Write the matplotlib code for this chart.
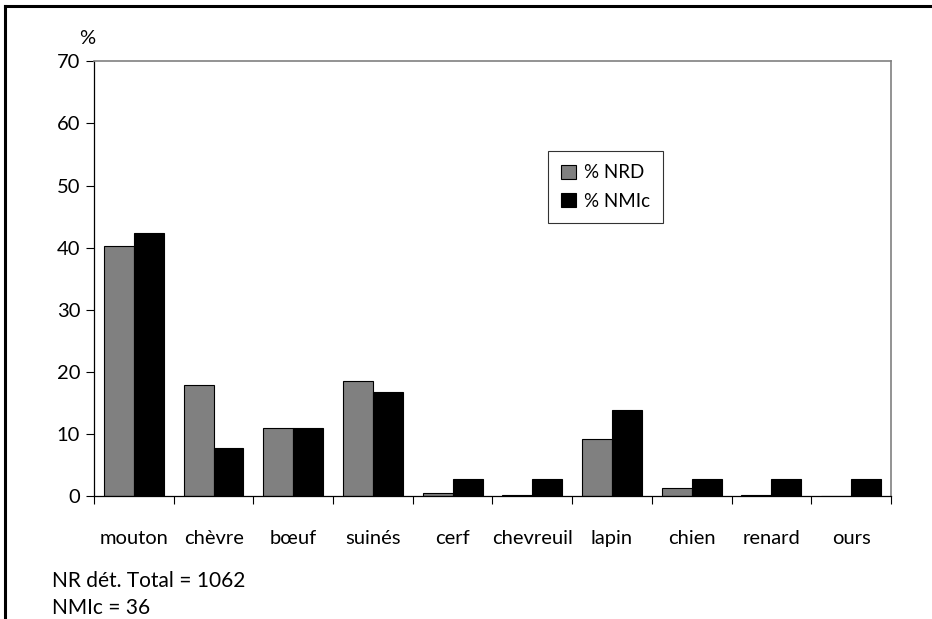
import matplotlib
matplotlib.use("Agg")
import matplotlib.pyplot as plt
from matplotlib.lines import Line2D
import numpy as np

plt.rcParams['font.family'] = ['Lato', 'DejaVu Sans']

categories = ['mouton', 'chèvre', 'bœuf', 'suinés', 'cerf', 'chevreuil', 'lapin',
              'chien', 'renard', 'ours']
nrd = [40.3, 17.9, 11.0, 18.5, 0.6, 0.3, 9.2, 1.4, 0.3, 0.0]
nmic = [42.3, 7.8, 11.0, 16.8, 2.8, 2.8, 13.9, 2.8, 2.8, 2.8]
yticks = [0, 10, 20, 30, 40, 50, 60, 70]

fig = plt.figure(figsize=(9.32, 6.19), dpi=100)
ax = fig.add_axes([0.1009, 0.198, 0.855, 0.703])

x = np.arange(len(categories))
w = 0.375
ax.bar(x - w / 2, nrd, w, color='#808080', edgecolor='black', linewidth=0.8, label='% NRD')
ax.bar(x + w / 2, nmic, w, color='black', edgecolor='black', linewidth=0.8, label='% NMIc')

ax.set_xlim(-0.5, len(categories) - 0.5)
ax.set_ylim(0, 70)
ax.set_yticks(yticks)
ax.set_xticks(np.arange(len(categories) + 1) - 0.5)
ax.set_xticklabels([])
ax.set_xticks(x, minor=True)
ax.set_xticklabels(categories, minor=True)
ax.tick_params(axis='x', which='minor', length=0, pad=24, labelsize=14.5)
ax.tick_params(axis='x', which='major', direction='out', length=6, width=0.8)
ax.tick_params(axis='y', direction='out', length=6, width=0.8, labelsize=14.5, pad=4)

for s in ['left', 'bottom']:
    ax.spines[s].set_color('black')
    ax.spines[s].set_linewidth(0.9)
for s in ['top', 'right']:
    ax.spines[s].set_color('#808080')
    ax.spines[s].set_linewidth(1.2)

fig.text(79 / 932, 1 - 39 / 619, '%', fontsize=14.5, ha='left', va='center')

leg = ax.legend(loc='upper left', bbox_to_anchor=(0.5696, 0.793), borderaxespad=0,
                fontsize=13.5, frameon=True, fancybox=False, edgecolor='black',
                handlelength=0.8, handleheight=0.8, handletextpad=0.4,
                labelspacing=0.6, borderpad=0.7)
leg.get_frame().set_linewidth(0.8)

fig.text(52 / 932, 1 - 581 / 619, 'NR dét. Total = 1062', fontsize=15, va='center')
fig.text(52 / 932, 1 - 608 / 619, 'NMIc = 36', fontsize=15, va='center')

# outer border (top and left)
fig.add_artist(Line2D([5 / 932, 1], [1 - 6 / 619, 1 - 6 / 619], color='black', linewidth=2.2,
                      transform=fig.transFigure))
fig.add_artist(Line2D([5 / 932, 5 / 932], [0, 1 - 6 / 619], color='black', linewidth=2.2,
                      transform=fig.transFigure))

fig.savefig('out.png', dpi=100)
